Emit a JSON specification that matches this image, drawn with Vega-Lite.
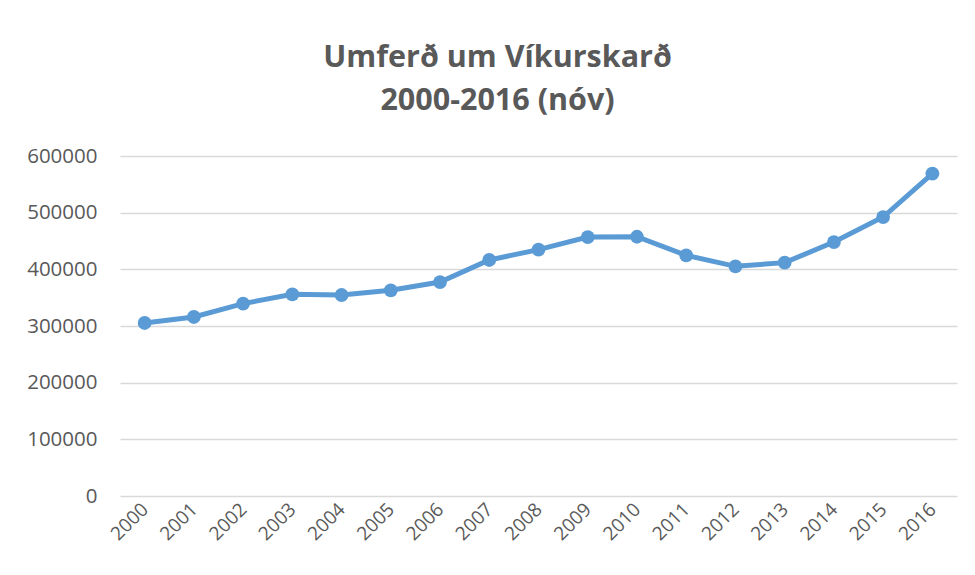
{
  "$schema": "https://vega.github.io/schema/vega-lite/v6.json",
  "autosize": "none",
  "width": 837,
  "height": 340,
  "padding": {"left": 120, "top": 156, "right": 18, "bottom": 79},
  "background": "white",
  "title": {
    "text": ["Umferð um Víkurskarð", "2000-2016 (nóv)"],
    "anchor": "middle",
    "dx": -41,
    "offset": 30,
    "font": "Open Sans",
    "fontSize": 30.5,
    "fontWeight": "bold",
    "color": "#595959",
    "lineHeight": 43
  },
  "data": {
    "values": [
      {"ar": "2000", "umferd": 305300},
      {"ar": "2001", "umferd": 315900},
      {"ar": "2002", "umferd": 339500},
      {"ar": "2003", "umferd": 355900},
      {"ar": "2004", "umferd": 354700},
      {"ar": "2005", "umferd": 363000},
      {"ar": "2006", "umferd": 377600},
      {"ar": "2007", "umferd": 416500},
      {"ar": "2008", "umferd": 434800},
      {"ar": "2009", "umferd": 457000},
      {"ar": "2010", "umferd": 457500},
      {"ar": "2011", "umferd": 424700},
      {"ar": "2012", "umferd": 405300},
      {"ar": "2013", "umferd": 411800},
      {"ar": "2014", "umferd": 448200},
      {"ar": "2015", "umferd": 492300},
      {"ar": "2016", "umferd": 568900}
    ]
  },
  "mark": {
    "type": "line",
    "color": "#5B9BD5",
    "strokeWidth": 5,
    "point": {"filled": true, "size": 190, "color": "#5B9BD5", "opacity": 1}
  },
  "encoding": {
    "x": {
      "field": "ar",
      "type": "ordinal",
      "scale": {"type": "point", "padding": 0.5},
      "axis": {
        "title": null,
        "labelAngle": -45,
        "labelAlign": "right",
        "labelBaseline": "middle",
        "labelFont": "Open Sans",
        "labelFontSize": 19,
        "labelColor": "#595959",
        "labelPadding": 10,
        "ticks": false,
        "domain": false,
        "grid": false
      }
    },
    "y": {
      "field": "umferd",
      "type": "quantitative",
      "scale": {"domain": [0, 600000], "nice": false},
      "axis": {
        "title": null,
        "values": [0, 100000, 200000, 300000, 400000, 500000, 600000],
        "format": "d",
        "labelFont": "Open Sans",
        "labelFontSize": 20.5,
        "labelColor": "#595959",
        "labelPadding": 23,
        "ticks": false,
        "domain": false,
        "grid": true,
        "gridColor": "#D9D9D9",
        "gridWidth": 1.5
      }
    }
  },
  "config": {"view": {"stroke": null}}
}
